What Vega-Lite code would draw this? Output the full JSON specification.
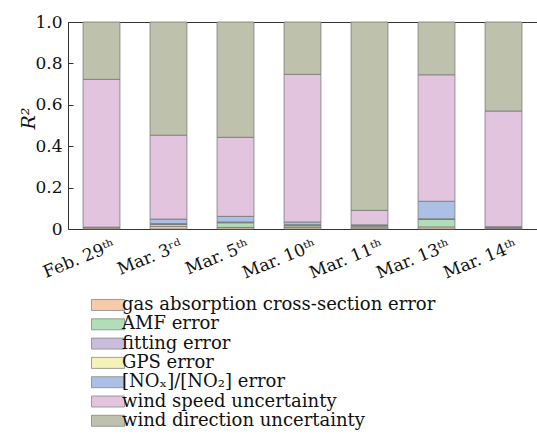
{
  "$schema": "https://vega.github.io/schema/vega-lite/v6.json",
  "autosize": "none",
  "width": 469,
  "height": 207,
  "padding": {"left": 68, "top": 22, "right": 0, "bottom": 216},
  "background": "white",
  "config": {
    "font": "DejaVu Serif",
    "view": {"stroke": "#333333", "strokeWidth": 1}
  },
  "data": {
    "values": [
      {"date": "Feb. 29ᵗʰ", "comp": "gas absorption cross-section error", "k": 0, "v": 0.006},
      {"date": "Feb. 29ᵗʰ", "comp": "AMF error", "k": 1, "v": 0.001},
      {"date": "Feb. 29ᵗʰ", "comp": "fitting error", "k": 2, "v": 0.001},
      {"date": "Feb. 29ᵗʰ", "comp": "GPS error", "k": 3, "v": 0.0005},
      {"date": "Feb. 29ᵗʰ", "comp": "[NOₓ]/[NO₂] error", "k": 4, "v": 0.0005},
      {"date": "Feb. 29ᵗʰ", "comp": "wind speed uncertainty", "k": 5, "v": 0.714},
      {"date": "Feb. 29ᵗʰ", "comp": "wind direction uncertainty", "k": 6, "v": 0.277},
      {"date": "Mar. 3ʳᵈ", "comp": "gas absorption cross-section error", "k": 0, "v": 0.012},
      {"date": "Mar. 3ʳᵈ", "comp": "AMF error", "k": 1, "v": 0.010},
      {"date": "Mar. 3ʳᵈ", "comp": "fitting error", "k": 2, "v": 0.002},
      {"date": "Mar. 3ʳᵈ", "comp": "GPS error", "k": 3, "v": 0.002},
      {"date": "Mar. 3ʳᵈ", "comp": "[NOₓ]/[NO₂] error", "k": 4, "v": 0.022},
      {"date": "Mar. 3ʳᵈ", "comp": "wind speed uncertainty", "k": 5, "v": 0.405},
      {"date": "Mar. 3ʳᵈ", "comp": "wind direction uncertainty", "k": 6, "v": 0.547},
      {"date": "Mar. 5ᵗʰ", "comp": "gas absorption cross-section error", "k": 0, "v": 0.008},
      {"date": "Mar. 5ᵗʰ", "comp": "AMF error", "k": 1, "v": 0.022},
      {"date": "Mar. 5ᵗʰ", "comp": "fitting error", "k": 2, "v": 0.003},
      {"date": "Mar. 5ᵗʰ", "comp": "GPS error", "k": 3, "v": 0.001},
      {"date": "Mar. 5ᵗʰ", "comp": "[NOₓ]/[NO₂] error", "k": 4, "v": 0.027},
      {"date": "Mar. 5ᵗʰ", "comp": "wind speed uncertainty", "k": 5, "v": 0.382},
      {"date": "Mar. 5ᵗʰ", "comp": "wind direction uncertainty", "k": 6, "v": 0.557},
      {"date": "Mar. 10ᵗʰ", "comp": "gas absorption cross-section error", "k": 0, "v": 0.008},
      {"date": "Mar. 10ᵗʰ", "comp": "AMF error", "k": 1, "v": 0.008},
      {"date": "Mar. 10ᵗʰ", "comp": "fitting error", "k": 2, "v": 0.003},
      {"date": "Mar. 10ᵗʰ", "comp": "GPS error", "k": 3, "v": 0.002},
      {"date": "Mar. 10ᵗʰ", "comp": "[NOₓ]/[NO₂] error", "k": 4, "v": 0.013},
      {"date": "Mar. 10ᵗʰ", "comp": "wind speed uncertainty", "k": 5, "v": 0.713},
      {"date": "Mar. 10ᵗʰ", "comp": "wind direction uncertainty", "k": 6, "v": 0.253},
      {"date": "Mar. 11ᵗʰ", "comp": "gas absorption cross-section error", "k": 0, "v": 0.006},
      {"date": "Mar. 11ᵗʰ", "comp": "AMF error", "k": 1, "v": 0.008},
      {"date": "Mar. 11ᵗʰ", "comp": "fitting error", "k": 2, "v": 0.003},
      {"date": "Mar. 11ᵗʰ", "comp": "GPS error", "k": 3, "v": 0.001},
      {"date": "Mar. 11ᵗʰ", "comp": "[NOₓ]/[NO₂] error", "k": 4, "v": 0.002},
      {"date": "Mar. 11ᵗʰ", "comp": "wind speed uncertainty", "k": 5, "v": 0.070},
      {"date": "Mar. 11ᵗʰ", "comp": "wind direction uncertainty", "k": 6, "v": 0.910},
      {"date": "Mar. 13ᵗʰ", "comp": "gas absorption cross-section error", "k": 0, "v": 0.010},
      {"date": "Mar. 13ᵗʰ", "comp": "AMF error", "k": 1, "v": 0.037},
      {"date": "Mar. 13ᵗʰ", "comp": "fitting error", "k": 2, "v": 0.001},
      {"date": "Mar. 13ᵗʰ", "comp": "GPS error", "k": 3, "v": 0.001},
      {"date": "Mar. 13ᵗʰ", "comp": "[NOₓ]/[NO₂] error", "k": 4, "v": 0.085},
      {"date": "Mar. 13ᵗʰ", "comp": "wind speed uncertainty", "k": 5, "v": 0.611},
      {"date": "Mar. 13ᵗʰ", "comp": "wind direction uncertainty", "k": 6, "v": 0.255},
      {"date": "Mar. 14ᵗʰ", "comp": "gas absorption cross-section error", "k": 0, "v": 0.004},
      {"date": "Mar. 14ᵗʰ", "comp": "AMF error", "k": 1, "v": 0.002},
      {"date": "Mar. 14ᵗʰ", "comp": "fitting error", "k": 2, "v": 0.003},
      {"date": "Mar. 14ᵗʰ", "comp": "GPS error", "k": 3, "v": 0.001},
      {"date": "Mar. 14ᵗʰ", "comp": "[NOₓ]/[NO₂] error", "k": 4, "v": 0.001},
      {"date": "Mar. 14ᵗʰ", "comp": "wind speed uncertainty", "k": 5, "v": 0.559},
      {"date": "Mar. 14ᵗʰ", "comp": "wind direction uncertainty", "k": 6, "v": 0.430}
    ]
  },
  "mark": {"type": "bar", "stroke": "#7a7a7a", "strokeWidth": 0.8},
  "encoding": {
    "x": {
      "field": "date",
      "type": "nominal",
      "sort": null,
      "scale": {"paddingInner": 0.45, "paddingOuter": 0.225},
      "axis": {
        "title": null,
        "domain": false,
        "ticks": false,
        "labelAngle": -22,
        "labelAlign": "right",
        "labelBaseline": "top",
        "labelFontSize": 17,
        "labelColor": "#111111",
        "labelPadding": 8,
        "labelOffset": 10
      }
    },
    "y": {
      "field": "v",
      "type": "quantitative",
      "stack": "zero",
      "scale": {"domain": [0, 1], "nice": false},
      "axis": {
        "title": "R²",
        "titleFontStyle": "italic",
        "titleFontWeight": "normal",
        "titleFontSize": 19,
        "titleColor": "#111111",
        "titleAngle": -90,
        "titleX": -34,
        "titleY": 96,
        "titleAlign": "center",
        "titleBaseline": "alphabetic",
        "domain": false,
        "grid": false,
        "values": [0, 0.2, 0.4, 0.6, 0.8, 1.0],
        "labelExpr": "datum.value == 0 ? '0' : format(datum.value, '.1f')",
        "labelFontSize": 17,
        "labelColor": "#111111",
        "tickSize": -5,
        "tickColor": "#333333",
        "labelPadding": 11,
        "labelFlush": false
      }
    },
    "color": {
      "field": "comp",
      "type": "nominal",
      "scale": {
        "domain": ["gas absorption cross-section error", "AMF error", "fitting error", "GPS error", "[NOₓ]/[NO₂] error", "wind speed uncertainty", "wind direction uncertainty"],
        "range": ["#F7CBAA", "#B2DDB9", "#C9BDDB", "#F4F2B8", "#AAC0E4", "#E3C4DF", "#BEC2AD"]
      },
      "legend": {
        "title": null,
        "orient": "none",
        "legendX": 20,
        "legendY": 274,
        "padding": 0,
        "symbolType": "M-1,-1H5V1H-1Z",
        "symbolSize": 121,
        "symbolStrokeColor": "#888888",
        "symbolStrokeWidth": 0.8,
        "symbolOpacity": 1,
        "labelFontSize": 18,
        "labelColor": "#111111",
        "labelOffset": 16,
        "labelLimit": 500,
        "rowPadding": 1.3
      }
    },
    "order": {"field": "k", "type": "quantitative"}
  }
}
